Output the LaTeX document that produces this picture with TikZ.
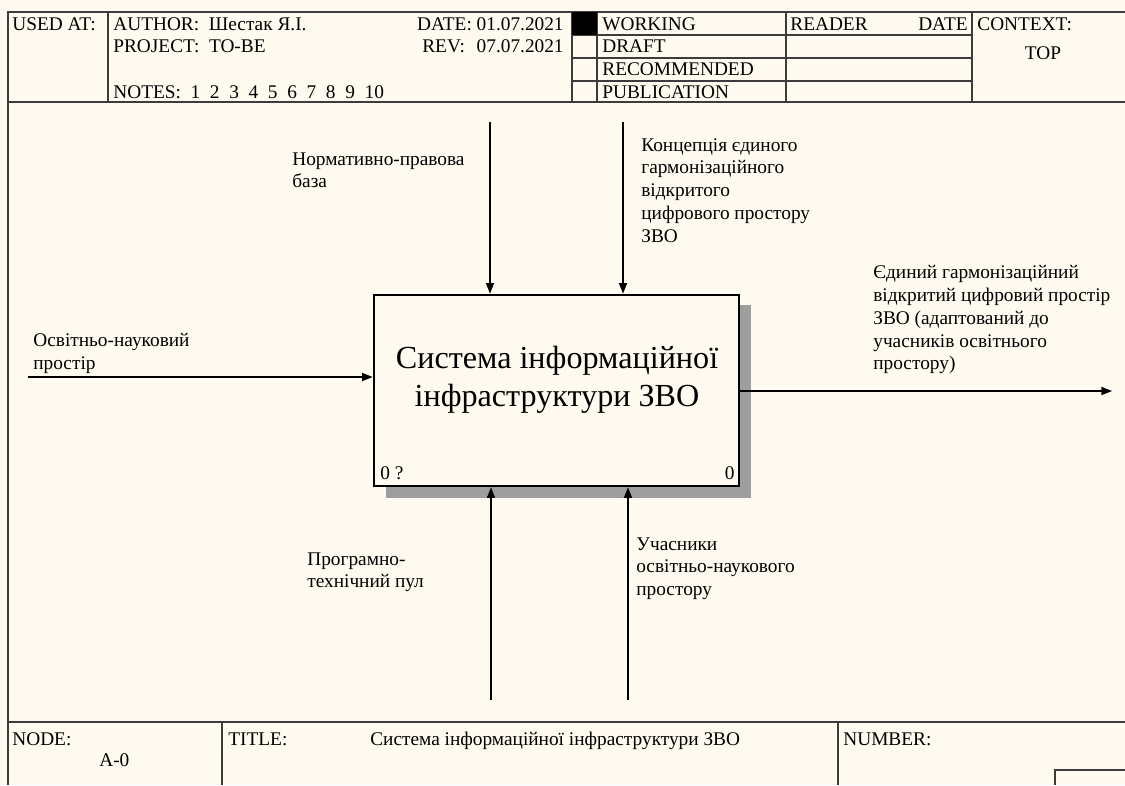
\documentclass[tikz,border=0pt]{standalone}
\usepackage{fontspec}
\setmainfont{Liberation Serif}
\usetikzlibrary{arrows.meta,positioning}
\definecolor{idefpaper}{RGB}{255,250,240}
\definecolor{idefline}{RGB}{60,60,60}
\definecolor{idefshade}{RGB}{158,158,158}

\tikzset{
  frameline/.style={draw=idefline, line width=0.8pt},
  flow/.style={-{Triangle[length=6pt,width=4.6pt]}, line width=0.6pt},
  lbl/.style={anchor=north west, inner sep=0pt, align=left, font=\fontsize{11}{13}\selectfont},
  hdr/.style={anchor=base west, inner sep=0pt, font=\fontsize{11}{13}\selectfont},
}

\begin{document}
\begin{tikzpicture}[x=0.02cm, y=-0.02cm]
    \fill[idefpaper] (0,0) rectangle (1125,785);
    \useasboundingbox (0,0) rectangle (1125,785);

    % frame and header grid
    \draw[frameline] (1125,12) -- (8,12) -- (8,785);
    \draw[frameline] (8,102) -- (1125,102);
    \foreach \xv in {108,572,597,786,972}
      \draw[frameline] (\xv,12) -- (\xv,102);
    \foreach \yv in {35,58,81}
      \draw[frameline] (572,\yv) -- (972,\yv);
    \fill[black] (572,12) rectangle (597,35);

    % header texts
    \node[hdr] (usedat) at (12,30) {USED AT:};
    \node[hdr] (author) at (113,30) {AUTHOR:\ \ Шестак Я.І.};
    \node[hdr] (project) at (113,52) {PROJECT:\ \ TO-BE};
    \node[hdr] (notes) at (113,98) {NOTES:\ \ 1\ \ 2\ \ 3\ \ 4\ \ 5\ \ 6\ \ 7\ \ 8\ \ 9\ \ 10};
    \node[hdr, anchor=base east] (date) at (564,30) {DATE: 01.07.2021};
    \node[hdr] (rev) at (422,52) {REV:};
    \node[hdr, anchor=base east] (revdate) at (564,52) {07.07.2021};
    \node[hdr] (working) at (602,30) {WORKING};
    \node[hdr] (draft) at (602,52) {DRAFT};
    \node[hdr] (recommended) at (602,75) {RECOMMENDED};
    \node[hdr] (publication) at (602,98) {PUBLICATION};
    \node[hdr] (reader) at (790,30) {READER};
    \node[hdr, anchor=base east] (readdate) at (968,30) {DATE};
    \node[hdr] (context) at (977,30) {CONTEXT:};
    \node[hdr, anchor=base] (top) at (1043,59) {TOP};

    % footer
    \draw[frameline] (8,722) -- (1125,722);
    \draw[frameline] (222,722) -- (222,785);
    \draw[frameline] (838,722) -- (838,785);
    \draw[frameline] (1125,770) -- (1055,770) -- (1055,785);
    \node[hdr] (nodelbl) at (12,745) {NODE:};
    \node[hdr] (nodeno) at (99,766) {A-0};
    \node[hdr] (titlelbl) at (228,745) {TITLE:};
    \node[hdr] (titletxt) at (370,745) {Система інформаційної інфраструктури ЗВО};
    \node[hdr] (numberlbl) at (843,745) {NUMBER:};

    % activity box with shadow
    \fill[idefshade] (386,305) rectangle (751,498);
    \node[draw, line width=1.6pt, fill=idefpaper, minimum width=7.3cm, minimum height=3.82cm, inner sep=0pt]
      (sys) at (556.5,390.5) {};
    \node[align=center, inner sep=0pt, font=\fontsize{18.3}{21.8}\selectfont] (systitle) at (557,380)
      {Система інформаційної\\інфраструктури ЗВО};
    \node[hdr] (boxid) at (380,479) {0 ?};
    \node[hdr, anchor=base east] (boxno) at (735,479) {0};

    % arrows
    \coordinate (ctl1) at (490,122);
    \coordinate (ctl2) at (623,122);
    \coordinate (inp) at (28,377);
    \coordinate (outend) at (1112,391);
    \coordinate (mech1) at (491,700);
    \coordinate (mech2) at (628,700);
    \draw[flow] (ctl1) -- (ctl1 |- sys.north);
    \draw[flow] (ctl2) -- (ctl2 |- sys.north);
    \draw[flow] (inp) -- (inp -| sys.west);
    \draw[flow] (outend -| sys.east) -- (outend);
    \draw[flow] (mech1) -- (mech1 |- sys.south);
    \draw[flow] (mech2) -- (mech2 |- sys.south);

    % arrow labels
    \node[lbl] (lblnorm) at (292,152) {Нормативно-правова\\база};
    \node[lbl] (lblconcept) at (641,138) {Концепція єдиного\\гармонізаційного\\відкритого\\цифрового простору\\ЗВО};
    \node[lbl] (lblinput) at (33,333) {Освітньо-науковий\\простір};
    \node[lbl] (lbloutput) at (873,265) {Єдиний гармонізаційний\\відкритий цифровий простір\\ЗВО (адаптований до\\учасників освітнього\\простору)};
    \node[lbl] (lblsoft) at (307,552) {Програмно-\\технічний пул};
    \node[lbl] (lblactors) at (636,537) {Учасники\\освітньо-наукового\\простору};
  \end{tikzpicture}
\end{document}
